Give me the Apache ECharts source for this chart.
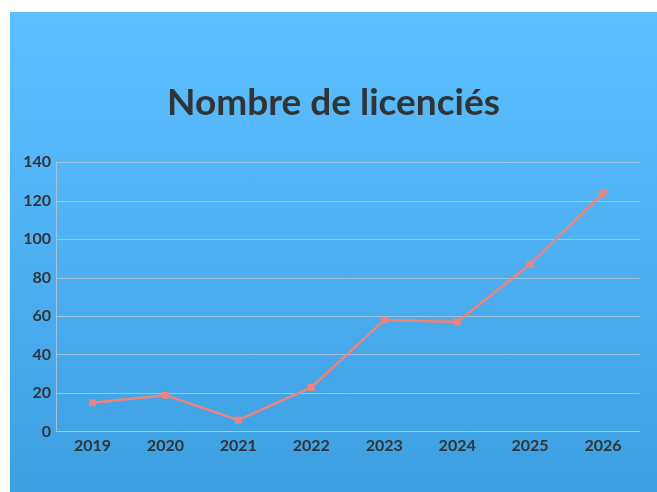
<!DOCTYPE html>
<html>
<head>
<meta charset="utf-8">
<script src="https://cdn.jsdelivr.net/npm/echarts@6/dist/echarts.min.js"></script>
<style>
html,body{margin:0;padding:0;background:#ffffff;width:657px;height:492px;overflow:hidden;}
#chart{position:absolute;left:10px;top:12px;width:647px;height:480px;
background:linear-gradient(to bottom,#5cbfff 0%,#4fb2f5 45%,#3c9fe0 100%);}
</style>
</head>
<body>
<div id="chart"></div>
<script>
const titleText = "Nombre de licenciés";
const categories = ["2019","2020","2021","2022","2023","2024","2025","2026"];
const licencies = [15, 19, 6, 23, 58, 57, 87, 124];
const yTicks = [0, 20, 40, 60, 80, 100, 120, 140];

const chart = echarts.init(document.getElementById('chart'), null, {renderer:'canvas'});
const gridColor = 'rgba(172,198,218,0.9)';
chart.setOption({
  backgroundColor: 'transparent',
  animation: false,
  title: {
    text: titleText,
    left: 'center',
    top: 68,
    textStyle: {fontFamily: 'Lato', fontWeight: 'bold', fontSize: 37, color: '#333333'}
  },
  grid: {left: 46, right: 17.5, top: 150.3, bottom: 60.3, containLabel: false},
  xAxis: {
    type: 'category',
    data: categories,
    boundaryGap: true,
    axisLine: {show: true, lineStyle: {color: gridColor, width: 1}},
    axisTick: {show: false},
    axisLabel: {margin: 6, fontFamily: 'Lato', fontWeight: 'bold', fontSize: 16, color: '#333333'},
    splitLine: {show: false}
  },
  yAxis: {
    type: 'value',
    min: yTicks[0],
    max: yTicks[yTicks.length-1],
    interval: 20,
    axisLine: {show: true, lineStyle: {color: gridColor, width: 1}},
    axisTick: {show: false},
    axisLabel: {margin: 5, fontFamily: 'Lato', fontWeight: 'bold', fontSize: 16, color: '#333333'},
    splitLine: {show: true, lineStyle: {color: gridColor, width: 1}}
  },
  series: [{
    type: 'line',
    data: licencies,
    symbol: 'rect',
    symbolSize: 7,
    lineStyle: {color: '#f0837b', width: 2.5},
    itemStyle: {color: '#f0837b'}
  }]
});
</script>
</body>
</html>
